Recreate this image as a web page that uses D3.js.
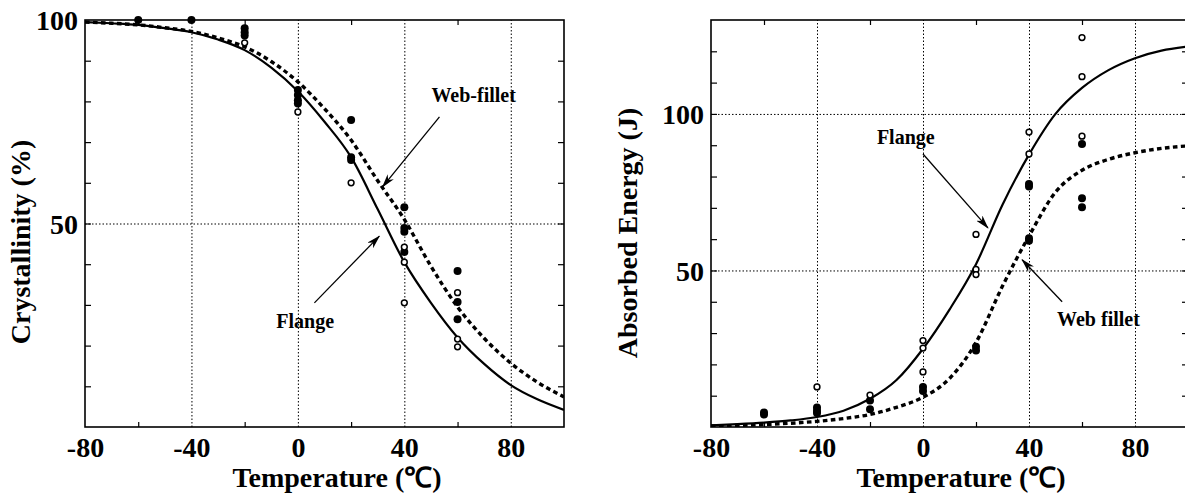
<!DOCTYPE html>
<html>
<head>
<meta charset="utf-8">
<script src="https://cdn.jsdelivr.net/npm/d3@7"></script>
<style>
  body { margin: 0; background: #fff; }
  text { font-family: "Liberation Serif", "Times New Roman", serif; font-weight: bold; fill: #000; }
</style>
</head>
<body>
<div id="chart-area"></div>
<script>
// temperatures used for the fitted curves (read every 10 deg)
var curveTemps = [-80, -70, -60, -50, -40, -30, -20, -10, 0, 10, 20, 30, 40, 50, 60, 70, 80, 90, 100];

// Left panel - Crystallinity (%)
var crystFlangeCurve = [99.5, 99.2, 98.8, 98, 97, 95.2, 92.6, 88.3, 82.5, 75, 66.3, 53.5, 40.5, 30.5, 22, 15.5, 10.3, 6.8, 4.2];
var crystWebCurve    = [99.5, 99.2, 98.8, 98.1, 97.2, 95.6, 93.4, 89.8, 84.8, 78.2, 70.5, 60.5, 51, 39.5, 29.5, 21.8, 15.7, 11, 7.4];
var crystWebPoints = [[-60, 100], [-40, 100], [-20, 98], [-20, 97], [-20, 96.2], [0, 82.8], [0, 81.6], [0, 80.3], [0, 79.5],
    [20, 75.4], [20, 66.3], [20, 65.6], [40, 54], [40, 48.9], [40, 48], [40, 43], [60, 38.3], [60, 30.7], [60, 26.5]];
var crystFlangePoints = [[-20, 94.4], [0, 77.4], [20, 60], [40, 44.2], [40, 40.5], [40, 30.5], [60, 33], [60, 21.6], [60, 19.7]];

// Right panel - Absorbed Energy (J)
var energyFlangeCurve = [0.5, 0.9, 1.4, 2.1, 3.2, 5.2, 9, 15, 25, 37.5, 52, 71, 87, 100, 108.3, 114, 117.8, 120.2, 121.5];
var energyWebCurve    = [0.3, 0.5, 0.8, 1.2, 1.8, 2.7, 4, 6.3, 9.5, 15.5, 27, 45, 61, 75, 82, 85.5, 87.6, 89, 89.8];
var energyWebPoints = [[-60, 4.6], [-60, 4], [-40, 6.2], [-40, 5.2], [-40, 4.5], [-20, 8.5], [-20, 5.7], [0, 12.8], [0, 11.5],
    [20, 25.6], [20, 24.4], [40, 77.6], [40, 76.8], [40, 60.3], [40, 59.5], [60, 90.4], [60, 73.1], [60, 70.2]];
var energyFlangePoints = [[-40, 12.8], [-20, 10.2], [0, 27.6], [0, 25.2], [0, 17.6], [20, 61.5], [20, 50.3], [20, 48.7],
    [40, 94.2], [40, 87.2], [60, 124.4], [60, 111.9], [60, 92.9]];

// axis ticks
var xLabelTicks = [-80, -40, 0, 40, 80];
var xGridTicks = [-40, 0, 40, 80];
var xMinorTicks = [-60, -20, 20, 60];
var crystLabelTicks = [50, 100];
var crystGridTicks = [50];
var crystMinorTicks = [10, 20, 30, 40, 60, 70, 80, 90];
var energyLabelTicks = [50, 100];
var energyGridTicks = [50, 100];
var energyMinorTicks = [10, 20, 30, 40, 60, 70, 80, 90, 110, 120];

var svg = d3.select("#chart-area")
    .append("svg")
        .attr("width", 1185)
        .attr("height", 497);

var defs = svg.append("defs");
defs.append("marker")
    .attr("id", "arrow")
    .attr("markerUnits", "userSpaceOnUse")
    .attr("viewBox", "0 0 14 8")
    .attr("refX", 13)
    .attr("refY", 4)
    .attr("markerWidth", 14)
    .attr("markerHeight", 8)
    .attr("orient", "auto")
  .append("path")
    .attr("d", "M0,0 L14,4 L0,8 L4,4 Z")
    .attr("fill", "#000");

// plain hyphen for negatives, like the original
var plainFormat = function(d){ return "" + d; };

function styleLabels(s) {
    s.select(".domain").remove();
    s.selectAll("text")
        .attr("font-size", "28px")
        .attr("font-family", "Liberation Serif")
        .attr("font-weight", "bold");
}

function drawPanel(p) {
    var x = d3.scaleLinear().domain([-80, 100]).range([p.left, p.right]);
    var y = d3.scaleLinear().domain(p.yDomain).range([427, 20]);
    var g = svg.append("g");

    g.append("clipPath").attr("id", p.id + "-clip")
      .append("rect")
        .attr("x", p.left).attr("y", 20)
        .attr("width", p.right - p.left).attr("height", 407);

    // Grid
    g.append("g")
        .attr("transform", "translate(0,427)")
        .call(d3.axisBottom(x).tickValues(xGridTicks).tickSize(-407).tickFormat(""))
        .call(function(s){ s.select(".domain").remove(); });
    g.append("g")
        .attr("transform", "translate(" + p.left + ",0)")
        .call(d3.axisLeft(y).tickValues(p.gridTicks).tickSize(-(p.right - p.left)).tickFormat(""))
        .call(function(s){ s.select(".domain").remove(); });
    g.selectAll(".tick line")
        .attr("stroke", "#000")
        .attr("stroke-width", 1)
        .attr("stroke-dasharray", "1.5,2");

    // Curves
    var line = d3.line()
        .x(function(d, i){ return x(curveTemps[i]); })
        .y(function(d){ return y(d); })
        .curve(d3.curveMonotoneX);
    var curves = g.append("g").attr("clip-path", "url(#" + p.id + "-clip)");
    curves.append("path")
        .attr("d", line(p.flangeCurve))
        .attr("fill", "none")
        .attr("stroke", "#000")
        .attr("stroke-width", 2.2);
    curves.append("path")
        .attr("d", line(p.webCurve))
        .attr("fill", "none")
        .attr("stroke", "#000")
        .attr("stroke-width", 3.4)
        .attr("stroke-dasharray", "4.6,3.4");

    // Points
    g.selectAll(".web-pt").data(p.webPoints).enter()
        .append("circle")
        .attr("cx", function(d){ return x(d[0]); })
        .attr("cy", function(d){ return y(d[1]); })
        .attr("r", 4)
        .attr("fill", "#000");
    g.selectAll(".flange-pt").data(p.flangePoints).enter()
        .append("circle")
        .attr("cx", function(d){ return x(d[0]); })
        .attr("cy", function(d){ return y(d[1]); })
        .attr("r", 2.9)
        .attr("fill", "#fff")
        .attr("stroke", "#000")
        .attr("stroke-width", 1.5);

    // Frame
    g.append("rect")
        .attr("x", p.left).attr("y", 20)
        .attr("width", p.right - p.left).attr("height", 407)
        .attr("fill", "none")
        .attr("stroke", "#000")
        .attr("stroke-width", 1.6);

    // inner minor ticks, all four sides
    var minor = [
        [d3.axisBottom(x).tickValues(xMinorTicks).tickSize(-5), "translate(0,427)"],
        [d3.axisTop(x).tickValues(xMinorTicks).tickSize(-5), "translate(0,20)"],
        [d3.axisLeft(y).tickValues(p.minorTicks.concat(p.gridTicks)).tickSize(-6), "translate(" + p.left + ",0)"],
        [d3.axisRight(y).tickValues(p.minorTicks.concat(p.gridTicks)).tickSize(-6), "translate(" + p.right + ",0)"]
    ];
    minor.forEach(function(m){
        g.append("g")
            .attr("transform", m[1])
            .call(m[0].tickFormat(""))
            .call(function(s){
                s.select(".domain").remove();
                s.selectAll("line").attr("stroke", "#000").attr("stroke-width", 1.2);
            });
    });

    // X Axis labels
    g.append("g")
        .attr("transform", "translate(0,427)")
        .call(d3.axisBottom(x).tickValues(xLabelTicks).tickSize(0).tickPadding(30).tickFormat(plainFormat))
        .call(styleLabels)
        .selectAll("text").attr("dy", 0);

    // Y Axis labels
    g.append("g")
        .attr("transform", "translate(" + p.left + ",0)")
        .call(d3.axisLeft(y).tickValues(p.labelTicks).tickSize(0).tickPadding(7).tickFormat(plainFormat))
        .call(styleLabels)
        .selectAll("text").attr("dy", "0.35em");

    // Labels
    g.append("text")
        .attr("x", p.xTitleX)
        .attr("y", 487)
        .attr("font-size", "28px")
        .attr("text-anchor", "middle")
        .text("Temperature (℃)");
    g.append("text")
        .attr("transform", "rotate(-90)")
        .attr("x", -p.yTitleY)
        .attr("y", p.yTitleX)
        .attr("font-size", "28px")
        .attr("text-anchor", "middle")
        .text(p.yTitle);

    // Annotations
    p.notes.forEach(function(n){
        g.append("line")
            .attr("x1", x(n.tail[0])).attr("y1", y(n.tail[1]))
            .attr("x2", x(n.tip[0])).attr("y2", y(n.tip[1]))
            .attr("stroke", "#000")
            .attr("stroke-width", 1.3)
            .attr("marker-end", "url(#arrow)");
        g.append("text")
            .attr("x", x(n.at[0]))
            .attr("y", y(n.at[1]))
            .attr("font-size", "20px")
            .text(n.text);
    });
}

drawPanel({
    id: "cryst", left: 85, right: 564, yDomain: [0, 100],
    flangeCurve: crystFlangeCurve, webCurve: crystWebCurve,
    flangePoints: crystFlangePoints, webPoints: crystWebPoints,
    labelTicks: crystLabelTicks, gridTicks: crystGridTicks, minorTicks: crystMinorTicks,
    xTitleX: 337, yTitle: "Crystallinity (%)", yTitleX: 30, yTitleY: 242,
    notes: [
        { text: "Web-fillet", at: [50.2, 79.9], tail: [53.2, 76.2], tip: [31.8, 59] },
        { text: "Flange", at: [-8.1, 24.3], tail: [6.2, 30.5], tip: [30.6, 46.9] }
    ]
});

drawPanel({
    id: "energy", left: 711, right: 1188, yDomain: [0, 130],
    flangeCurve: energyFlangeCurve, webCurve: energyWebCurve,
    flangePoints: energyFlangePoints, webPoints: energyWebPoints,
    labelTicks: energyLabelTicks, gridTicks: energyGridTicks, minorTicks: energyMinorTicks,
    xTitleX: 961, yTitle: "Absorbed Energy (J)", yTitleX: 637, yTitleY: 233,
    notes: [
        { text: "Flange", at: [-17.4, 90.4], tail: [0, 87.2], tip: [24.5, 63.6] },
        { text: "Web fillet", at: [50.6, 32.3], tail: [52.5, 40], tip: [37.4, 53.4] }
    ]
});
</script>
</body>
</html>
